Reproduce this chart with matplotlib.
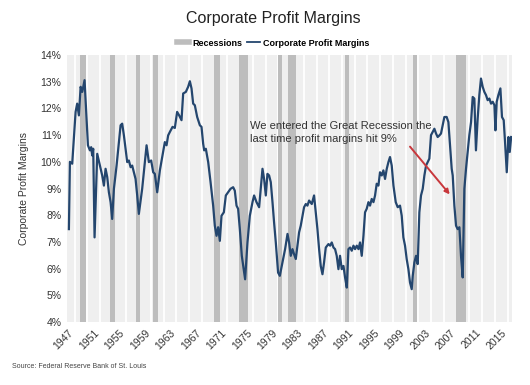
import matplotlib.pyplot as plt
from matplotlib.lines import Line2D

# data (year, profit margin in %)
years = [1947.10, 1947.26, 1947.62, 1948.15, 1948.40, 1948.67, 1948.94, 1949.20, 1949.56, 1949.88,
         1950.09, 1950.40, 1950.60, 1950.76, 1950.92, 1951.13, 1951.55, 1951.97, 1952.33, 1952.60,
         1952.86, 1953.12, 1953.38, 1953.65, 1953.90, 1954.17, 1954.59, 1954.95, 1955.22, 1955.47,
         1955.74, 1956.00, 1956.26, 1956.52, 1956.79, 1957.04, 1957.31, 1957.57, 1957.83, 1958.09,
         1958.61, 1958.98, 1959.30, 1959.66, 1960.02, 1960.34, 1960.60, 1960.97, 1961.39, 1961.81,
         1962.17, 1962.44, 1962.69, 1962.96, 1963.38, 1963.74, 1964.10, 1964.42, 1964.79, 1965.05,
         1965.47, 1965.83, 1966.10, 1966.36, 1966.62, 1966.88, 1967.25, 1967.67, 1967.93, 1968.19,
         1968.35, 1968.61, 1968.98, 1969.35, 1969.76, 1970.02, 1970.29, 1970.54, 1970.81, 1971.07,
         1971.44, 1971.75, 1972.11, 1972.49, 1972.90, 1973.16, 1973.43, 1973.68, 1973.95, 1974.26,
         1974.78, 1975.15, 1975.52, 1975.94, 1976.19, 1976.57, 1976.98, 1977.24, 1977.51, 1977.76,
         1978.03, 1978.29, 1978.55, 1978.81, 1979.08, 1979.33, 1979.60, 1979.96, 1980.23, 1980.65,
         1981.06, 1981.44, 1981.69, 1981.95, 1982.22, 1982.47, 1982.74, 1983.00, 1983.26, 1983.52,
         1983.79, 1984.04, 1984.31, 1984.57, 1984.83, 1985.25, 1985.61, 1985.88, 1986.14, 1986.40,
         1986.66, 1986.93, 1987.18, 1987.45, 1987.87, 1988.13, 1988.39, 1988.66, 1988.91, 1989.17,
         1989.44, 1989.69, 1989.96, 1990.23, 1990.48, 1990.75, 1991.01, 1991.27, 1991.53, 1991.80,
         1992.05, 1992.32, 1992.59, 1992.83, 1993.10, 1993.37, 1993.62, 1993.88, 1994.15, 1994.40,
         1994.67, 1994.94, 1995.19, 1995.45, 1995.72, 1995.97, 1996.24, 1996.50, 1996.76, 1997.03,
         1997.29, 1997.54, 1997.81, 1998.08, 1998.44, 1998.75, 1999.11, 1999.38, 1999.64, 1999.90,
         2000.16, 2000.43, 2000.68, 2000.95, 2001.11, 2001.37, 2001.63, 2001.89, 2002.15, 2002.41,
         2002.68, 2002.94, 2003.20, 2003.46, 2003.72, 2003.98, 2004.25, 2004.51, 2004.77, 2005.03,
         2005.30, 2005.55, 2005.82, 2006.08, 2006.44, 2006.71, 2006.96, 2007.23, 2007.39, 2007.65,
         2007.91, 2008.17, 2008.44, 2008.69, 2008.96, 2009.22, 2009.48, 2009.74, 2010.00, 2010.27,
         2010.53, 2010.79, 2011.04, 2011.31, 2011.57, 2011.83, 2012.10, 2012.36, 2012.62, 2012.88,
         2013.15, 2013.41, 2013.68, 2013.94, 2014.10, 2014.30, 2014.56, 2014.88, 2015.13, 2015.40,
         2015.61, 2015.88, 2016.14, 2016.35, 2016.57]
margins = [7.48, 10.00, 9.93, 11.87, 12.18, 11.74, 12.81, 12.62, 13.06, 11.62,
           10.62, 10.43, 10.55, 10.24, 10.49, 7.17, 10.30, 9.86, 9.49, 9.11,
           9.74, 9.43, 8.86, 8.49, 7.86, 8.99, 9.86, 10.74, 11.37, 11.43,
           10.99, 10.49, 9.99, 10.05, 9.80, 9.86, 9.61, 9.36, 8.74, 8.05,
           8.99, 9.86, 10.62, 9.99, 10.05, 9.61, 9.55, 8.86, 9.68, 10.24,
           10.74, 10.62, 10.99, 11.12, 11.31, 11.27, 11.87, 11.74, 11.56, 12.56,
           12.62, 12.81, 13.02, 12.75, 12.18, 12.12, 11.68, 11.37, 11.31, 10.68,
           10.43, 10.49, 9.99, 9.24, 8.36, 7.61, 7.23, 7.55, 7.04, 7.98,
           8.11, 8.74, 8.86, 8.99, 9.05, 8.92, 8.36, 8.24, 7.48, 6.48,
           5.60, 6.98, 7.98, 8.49, 8.74, 8.49, 8.30, 8.99, 9.74, 9.36,
           8.74, 9.55, 9.49, 9.24, 8.49, 7.73, 6.98, 5.85, 5.73, 6.23,
           6.73, 7.30, 6.98, 6.48, 6.73, 6.54, 6.36, 6.86, 7.36, 7.61,
           7.98, 8.30, 8.42, 8.36, 8.55, 8.42, 8.74, 8.11, 7.48, 6.73,
           6.10, 5.79, 6.23, 6.79, 6.92, 6.86, 6.98, 6.79, 6.73, 6.48,
           5.98, 6.48, 5.98, 6.10, 5.67, 5.29, 6.73, 6.79, 6.67, 6.86,
           6.73, 6.86, 6.73, 6.98, 6.48, 7.23, 8.11, 8.24, 8.49, 8.36,
           8.61, 8.49, 8.74, 9.18, 9.11, 9.61, 9.49, 9.68, 9.36, 9.74,
           9.99, 10.18, 9.86, 9.11, 8.49, 8.30, 8.36, 7.98, 7.17, 6.86,
           6.36, 5.98, 5.48, 5.23, 5.73, 6.23, 6.48, 6.17, 8.11, 8.74,
           8.99, 9.49, 9.86, 9.99, 10.12, 11.00, 11.12, 11.24, 11.06, 10.93,
           10.99, 11.06, 11.37, 11.68, 11.68, 11.49, 10.62, 9.74, 9.49, 8.36,
           7.61, 7.48, 7.55, 6.48, 5.67, 8.99, 9.74, 10.37, 11.00, 11.49,
           12.43, 12.37, 10.43, 11.62, 12.50, 13.12, 12.81, 12.62, 12.50, 12.31,
           12.37, 12.18, 12.25, 12.12, 11.18, 12.25, 12.50, 12.75, 11.68, 11.56,
           10.74, 9.61, 10.93, 10.37, 10.93]

rec_start = [1948.83, 1953.50, 1957.58, 1960.25, 1969.92, 1973.83, 1980.00, 1981.50, 1990.50, 2001.17, 2007.92]
rec_end = [1949.75, 1954.33, 1958.25, 1961.08, 1970.83, 1975.17, 1980.50, 1982.83, 1991.17, 2001.83, 2009.50]

tick_years = list(range(1947, 2016, 4))
yticks = list(range(4, 15))

plt.rcParams['font.family'] = ['Liberation Sans', 'DejaVu Sans']

fig = plt.figure(figsize=(5.3, 3.85), dpi=100)
ax = fig.add_axes([0.1264, 0.1636, 0.8396, 0.6934])
ax.set_facecolor('#efefef')

# background stripes
for yr in range(1948, 2017, 2):
    ax.axvline(yr, color='white', lw=1.3, zorder=0)

for s, e in zip(rec_start, rec_end):
    ax.axvspan(s, e, color='#bdbdbd', lw=0, zorder=1)

line_col = '#24466e'
ax.plot(years, margins, color=line_col, lw=1.6, zorder=3)

ax.set_xlim(1946.8, 2016.7)
ax.set_ylim(4, 14)
ax.set_yticks(yticks)
ax.set_yticklabels([f'{v}%' for v in yticks], fontsize=7.5, color='#333333')
ax.set_xticks(tick_years)
ax.set_xticklabels([str(y) for y in tick_years], rotation=45, ha='right', va='top',
                   rotation_mode='anchor', fontsize=7.5, color='#333333')
ax.tick_params(length=0, pad=4)
for sp in ax.spines.values():
    sp.set_visible(False)

ax.set_ylabel('Corporate Profit Margins', fontsize=7.5, color='#333333', labelpad=8)

# annotation
ax.text(1975.5, 11.1, 'We entered the Great Recession the\nlast time profit margins hit 9%',
        fontsize=8, color='#333333', va='center', ha='left', linespacing=1.35, zorder=4)
ax.annotate('', xy=(2007.2, 8.7), xytext=(2000.4, 10.65),
            arrowprops=dict(arrowstyle='-|>', color='#c8373c', lw=1.4, mutation_scale=7),
            zorder=5)

fig.text(0.515, 0.953, 'Corporate Profit Margins', ha='center', va='center', fontsize=11.5, color='#222222')

handles = [Line2D([0], [0], color='#bdbdbd', lw=4),
           Line2D([0], [0], color=line_col, lw=1.3)]
fig.legend(handles, ['Recessions', 'Corporate Profit Margins'], loc='center',
           bbox_to_anchor=(0.515, 0.888), ncol=2, frameon=False, handlelength=1.4,
           handletextpad=0.3, columnspacing=0.6, prop={'size': 6.5, 'weight': 'bold'})

fig.text(0.022, 0.048, 'Source: Federal Reserve Bank of St. Louis', fontsize=5, color='#444444',
         ha='left', va='center')

fig.savefig('out.png', dpi=100)
